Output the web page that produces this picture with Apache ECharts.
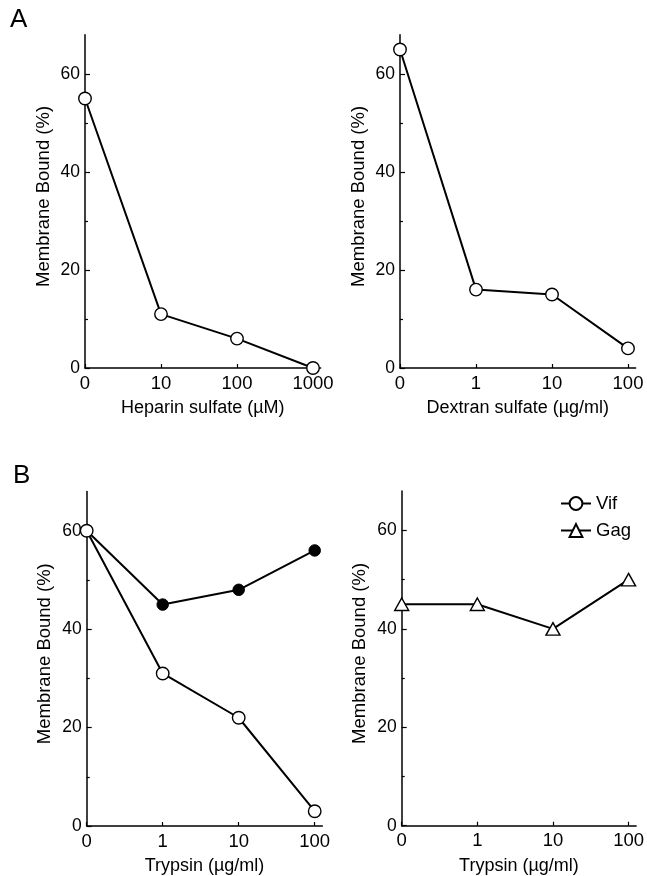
<!DOCTYPE html>
<html>
<head>
<meta charset="utf-8">
<script src="https://cdn.jsdelivr.net/npm/echarts@6/dist/echarts.min.js"></script>
<style>
  html, body { margin: 0; padding: 0; background: #fff; }
  #chart { width: 647px; height: 876px; }
</style>
</head>
<body>
<div id="chart"></div>
<script>
// ---- data ----
const heparinLabels = ['0', '10', '100', '1000'];
const dextranLabels = ['0', '1', '10', '100'];
const trypsinLabels = ['0', '1', '10', '100'];
const heparinBound = [55, 11, 6, 0];
const dextranBound = [65, 16, 15, 4];
const vifOpenBound = [60, 31, 22, 3];
const vifFilledBound = [60, 45, 48, 56];
const gagBound = [45, 45, 40, 50];
const yMajorTicks = [0, 20, 40, 60];
const yMinorTicks = [10, 30, 50];

const FONT = '"Liberation Sans", Arial, Helvetica, sans-serif';
const BLACK = '#000';

const grids = [
  { left: 85, top: 34.8, width: 235.6, height: 333.2 },
  { left: 400, top: 34.8, width: 235.6, height: 333.2 },
  { left: 86.7, top: 491.4, width: 235.6, height: 334.6 },
  { left: 401.7, top: 491.1, width: 235.6, height: 334.6 }
];
const xNames = ['Heparin sulfate (\u00B5M)', 'Dextran sulfate (\u00B5g/ml)', 'Trypsin (\u00B5g/ml)', 'Trypsin (\u00B5g/ml)'];
const xLabelSets = [heparinLabels, dextranLabels, trypsinLabels, trypsinLabels];

const xAxes = grids.map((g, i) => ({
  type: 'value', gridIndex: i, min: 0, max: 3.1,
  name: xNames[i], nameLocation: 'middle', nameGap: 31,
  nameTextStyle: { fontFamily: FONT, fontSize: 18, color: BLACK },
  axisLine: { show: true, lineStyle: { color: BLACK, width: 1.5 } },
  axisTick: { show: true, inside: true, length: 4, customValues: [0, 1, 2, 3], lineStyle: { color: BLACK, width: 1.2 } },
  axisLabel: { show: true, customValues: [0, 1, 2, 3], margin: 6, fontFamily: FONT, fontSize: 18.5, color: BLACK,
    formatter: v => xLabelSets[i][Math.round(v)] },
  splitLine: { show: false }
}));

const yAxes = [];
grids.forEach((g, i) => {
  yAxes.push({
    type: 'value', gridIndex: i, min: 0, max: 68, position: 'left',
    name: 'Membrane Bound (%)', nameLocation: 'middle', nameGap: 32, nameRotate: 90,
    nameTextStyle: { fontFamily: FONT, fontSize: 18.5, color: BLACK, padding: [0, 0, 0, 10] },
    axisLine: { show: true, lineStyle: { color: BLACK, width: 1.5 } },
    axisTick: { show: true, inside: true, length: 5, customValues: yMajorTicks, lineStyle: { color: BLACK, width: 1.2 } },
    axisLabel: { show: true, customValues: yMajorTicks, margin: 5, fontFamily: FONT, fontSize: 17.5, color: BLACK },
    splitLine: { show: false }
  });
});
grids.forEach((g, i) => {
  yAxes.push({
    type: 'value', gridIndex: i, min: 0, max: 68, position: 'left', offset: 0,
    axisLine: { show: false },
    axisTick: { show: true, inside: true, length: 3, customValues: yMinorTicks, lineStyle: { color: BLACK, width: 1.2 } },
    axisLabel: { show: false },
    splitLine: { show: false }
  });
});

function pts(vals) { return vals.map((v, i) => [i, v]); }

const openStyle = { color: '#fff', borderColor: BLACK, borderWidth: 1.4 };
const lineSty = { color: BLACK, width: 2 };

const series = [
  { name: 'Heparin', type: 'line', xAxisIndex: 0, yAxisIndex: 0, data: pts(heparinBound),
    symbol: 'circle', symbolSize: 12.5, itemStyle: openStyle, lineStyle: lineSty, z: 3 },
  { name: 'Dextran', type: 'line', xAxisIndex: 1, yAxisIndex: 1, data: pts(dextranBound),
    symbol: 'circle', symbolSize: 12.5, itemStyle: openStyle, lineStyle: lineSty, z: 3 },
  { name: 'Vif filled', type: 'line', xAxisIndex: 2, yAxisIndex: 2,
    data: pts(vifFilledBound).map((p, i) => i === 0 ? { value: p, symbol: 'none' } : p),
    symbol: 'circle', symbolSize: 11.5, itemStyle: { color: BLACK, borderColor: BLACK, borderWidth: 1 }, lineStyle: lineSty, z: 2 },
  { name: 'Vif', type: 'line', xAxisIndex: 2, yAxisIndex: 2, data: pts(vifOpenBound),
    symbol: 'circle', symbolSize: 12.5, itemStyle: openStyle, lineStyle: lineSty, z: 3 },
  { name: 'Gag', type: 'line', xAxisIndex: 3, yAxisIndex: 3, data: pts(gagBound),
    symbol: 'triangle', symbolSize: [14, 12.5], itemStyle: openStyle, lineStyle: lineSty, z: 3 }
];

const chart = echarts.init(document.getElementById('chart'), null, { renderer: 'canvas' });
chart.setOption({
  backgroundColor: '#fff',
  animation: false,
  textStyle: { fontFamily: FONT, color: BLACK },
  title: [
    { text: 'A', left: 10, top: 7, padding: 0, textStyle: { fontFamily: FONT, fontSize: 26, fontWeight: 'normal', color: BLACK } },
    { text: 'B', left: 13, top: 463, padding: 0, textStyle: { fontFamily: FONT, fontSize: 26, fontWeight: 'normal', color: BLACK } }
  ],
  legend: {
    data: ['Vif', 'Gag'], orient: 'vertical', left: 560, top: 494, padding: 0,
    itemWidth: 30, itemHeight: 16, itemGap: 8,
    textStyle: { fontFamily: FONT, fontSize: 18.5, color: BLACK },
    selectedMode: false
  },
  grid: grids,
  xAxis: xAxes,
  yAxis: yAxes,
  series: series
});
</script>
</body>
</html>
